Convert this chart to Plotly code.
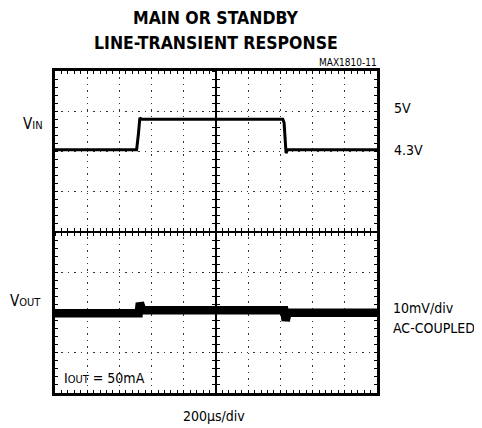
import plotly.graph_objects as go

# ---------------- data ----------------
# VIN trace, time in microseconds (200 us/div), volts
vin_time_us = [0, 507, 518, 527, 538, 1415, 1423, 1431, 1435, 1444, 2000]
vin_volts = [4.3, 4.3, 4.66, 5.03, 5.0, 5.0, 4.92, 4.35, 4.22, 4.3, 4.3]

# VOUT trace (AC-coupled deviation), time in microseconds, millivolts
vout_time_us = [0, 520, 527, 533, 543, 1424, 1433, 1441, 1457, 2000]
vout_mv = [0.0, 0.0, 2.6, 1.2, 0.74, 0.74, -1.86, -0.4, 0.12, 0.12]

# labels
title_lines = ["MAIN OR STANDBY", "LINE-TRANSIENT RESPONSE"]
part_label = "MAX1810-11"
vin_levels = ["5V", "4.3V"]
vout_scale = ["10mV/div", "AC-COUPLED"]
time_scale = "200µs/div"
load_label = "I<span style='font-size:11px'>OUT</span> = 50mA"

# ---------------- scope geometry ----------------
T_DIV = 200.0           # us per horizontal division
N_XDIV, N_YDIV = 10, 8
VIN_LOW_DIV, VIN_HIGH_DIV = 2.043, 2.80    # screen position of the two VIN levels
VIN_PER_DIV = (5.0 - 4.3) / (VIN_HIGH_DIV - VIN_LOW_DIV)
VIN_CENTER = 4.3 - VIN_LOW_DIV * VIN_PER_DIV
VOUT_PER_DIV = 10.0     # mV/div
VOUT_BASE_DIV = -2.02   # screen position of VOUT baseline
VOUT_CENTER = -VOUT_BASE_DIV * VOUT_PER_DIV

OFF = 8                 # page body margin
W, H = 482 - OFF, 428 - OFF
# plot area in page pixels
PX0, PX1, PY0, PY1 = 55.25, 376.75, 70.5, 392.75
L, T = PX0 - OFF, PY0 - OFF
R, B = W - (PX1 - OFF), H - (PY1 - OFF)
PW, PH = PX1 - PX0, PY1 - PY0

FONT = "DejaVu Sans Condensed, DejaVu Sans, sans-serif"


def px(x):
    return (x - PX0) / PW


def py(y):
    return (PY1 - y) / PH


fig = go.Figure()

# grid holder
fig.add_trace(go.Scatter(x=[None], y=[None], xaxis="x", yaxis="y",
                         showlegend=False, hoverinfo="skip"))
# centre-cross holders
for xa, ya in [("x3", "y"), ("x4", "y"), ("x", "y4"), ("x", "y5")]:
    fig.add_trace(go.Scatter(x=[None], y=[None], xaxis=xa, yaxis=ya,
                             showlegend=False, hoverinfo="skip"))

fig.add_trace(go.Scatter(x=vin_time_us, y=vin_volts, mode="lines",
                         line=dict(color="black", width=3),
                         xaxis="x", yaxis="y2", showlegend=False))
fig.add_trace(go.Scatter(x=vout_time_us, y=vout_mv, mode="lines",
                         line=dict(color="black", width=8.5),
                         xaxis="x", yaxis="y3", showlegend=False))

grid_common = dict(showgrid=True, gridcolor="#333333", gridwidth=1.4,
                   griddash="1.4px,5px", showline=True, linecolor="black",
                   linewidth=2.5, mirror="ticks", ticks="inside", ticklen=3,
                   tickcolor="black", tickwidth=1, showticklabels=False,
                   zeroline=False, fixedrange=True)

cross_x = dict(overlaying="x", anchor="free", position=0.5,
               range=[0, N_XDIV * T_DIV], showline=True, linecolor="black",
               linewidth=1.5, ticklen=3.5, tickwidth=1.2, tickcolor="black",
               dtick=T_DIV / 5, tick0=0, showticklabels=False,
               showgrid=False, zeroline=False)
cross_y = dict(overlaying="y", anchor="free", position=0.5,
               range=[-N_YDIV / 2, N_YDIV / 2], showline=True,
               linecolor="black", linewidth=1.5, ticklen=3.5, tickwidth=1.2,
               tickcolor="black", dtick=0.2, tick0=0, showticklabels=False,
               showgrid=False, zeroline=False)

fig.update_layout(
    width=W, height=H,
    margin=dict(l=L, r=R, t=T, b=B, pad=0, autoexpand=False),
    paper_bgcolor="white", plot_bgcolor="white",
    showlegend=False,
    xaxis=dict(range=[0, N_XDIV * T_DIV], dtick=T_DIV, tick0=0,
               minor=dict(dtick=T_DIV / 5, ticks="inside", ticklen=3,
                          tickcolor="black", tickwidth=1, showgrid=False),
               **grid_common),
    yaxis=dict(range=[-N_YDIV / 2, N_YDIV / 2], dtick=1, tick0=0,
               minor=dict(dtick=0.2, ticks="inside", ticklen=3,
                          tickcolor="black", tickwidth=1, showgrid=False),
               **grid_common),
    yaxis2=dict(overlaying="y", visible=False,
                range=[VIN_CENTER - 4 * VIN_PER_DIV, VIN_CENTER + 4 * VIN_PER_DIV]),
    yaxis3=dict(overlaying="y", visible=False,
                range=[VOUT_CENTER - 4 * VOUT_PER_DIV, VOUT_CENTER + 4 * VOUT_PER_DIV]),
    xaxis3=dict(ticks="outside", **cross_x),
    xaxis4=dict(ticks="inside", **cross_x),
    yaxis4=dict(ticks="outside", **cross_y),
    yaxis5=dict(ticks="inside", **cross_y),
    font=dict(family=FONT, color="black", size=14),
)

ann = []


def add(text, x, y, size, xanchor="left", bold=False):
    ann.append(dict(text=f"<b>{text}</b>" if bold else text,
                    x=px(x), y=py(y), xref="paper", yref="paper",
                    xanchor=xanchor, yanchor="middle", showarrow=False,
                    font=dict(family=FONT, size=size, color="black")))


add(title_lines[0], 216, 17.5, 17.5, "center", bold=True)
add(title_lines[1], 216, 42.5, 17.5, "center", bold=True)
add(part_label, 379, 61.5, 10, "right")
add("V<span style='font-size:11px'>IN</span>", 21, 124, 15)
add(vin_levels[0], 392, 108, 14)
add(vin_levels[1], 392, 149.5, 14)
add("V<span style='font-size:11px'>OUT</span>", 8, 300.5, 15)
add(vout_scale[0], 391, 308, 14)
add(vout_scale[1], 391, 327.5, 14)
add(load_label, 62, 378, 14)
add(time_scale, 214, 416, 14, "center")

fig.update_layout(annotations=ann)
fig.write_html("out.html")
